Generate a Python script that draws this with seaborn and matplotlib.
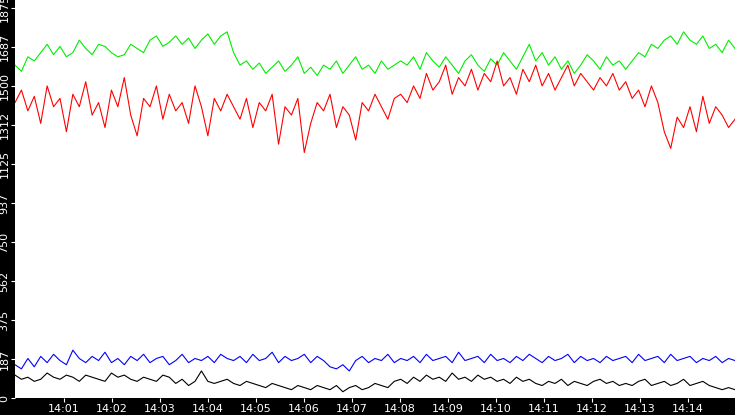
import numpy as np
import pandas as pd
import matplotlib
matplotlib.use('Agg')
import matplotlib.pyplot as plt
import seaborn as sns

green = [1600,1570,1640,1620,1660,1700,1650,1690,1640,1660,1720,1680,1650,1700,1690,1660,1640,1650,1700,1680,1660,1720,1740,1690,1710,1740,1700,1730,1680,1720,1750,1700,1740,1760,
         1660,1600,1620,1580,1610,1560,1590,1620,1570,1600,1640,1560,1590,1550,1600,1580,1620,1560,1600,1640,1580,1600,1560,1620,1580,1600,
         1620,1600,1640,1580,1660,1620,1590,1640,1600,1560,1620,1650,1600,1570,1630,1600,1660,1620,1580,1640,1700,1620,1660,1600,1640,1580,1620,1560,1600,1650,1620,1580,1640,1600,1620,
         1580,1620,1660,1640,1700,1680,1720,1740,1700,1760,1720,1700,1740,1680,1700,1660,1720,1680]
red = [1420,1480,1380,1450,1320,1500,1400,1440,1280,1460,1400,1520,1360,1420,1300,1480,1400,1540,1360,1260,1440,1400,1500,1340,1460,1380,1420,1320,1500,1400,1260,1440,1380,1460,
       1400,1340,1440,1300,1420,1380,1460,1220,1400,1360,1440,1180,1320,1420,1380,1460,1300,1400,1360,1240,1420,1380,1460,1400,1340,1440,
       1460,1420,1500,1440,1560,1480,1520,1600,1460,1540,1500,1580,1480,1560,1520,1620,1500,1540,1460,1580,1520,1600,1500,1560,1480,1540,1600,1500,1560,1520,1480,1540,1500,1560,1480,
       1520,1440,1480,1400,1500,1420,1280,1200,1350,1300,1400,1280,1450,1320,1400,1360,1300,1340]
blue = [160,140,190,150,200,170,210,180,160,230,190,170,200,180,220,170,190,160,200,180,210,170,190,200,160,180,210,170,190,180,200,170,210,190,
        180,200,170,210,180,190,220,170,200,180,190,210,170,200,180,150,140,160,130,180,200,170,190,180,210,170,
        190,180,200,170,210,180,190,200,170,220,180,190,200,170,210,180,190,170,200,180,210,190,170,200,180,190,210,170,200,180,190,170,200,180,190,
        200,170,210,180,190,200,170,210,180,190,200,170,190,180,200,170,190,180]
black = [110,90,100,80,90,120,100,90,110,100,80,110,100,90,80,120,100,110,90,80,100,90,80,110,100,70,90,60,80,130,80,70,80,90,
         70,60,80,70,60,50,70,60,50,40,60,50,40,60,50,40,60,30,50,60,40,50,70,60,50,80,
         90,70,100,80,110,90,100,80,120,90,100,80,110,90,100,80,90,70,100,80,90,70,60,80,70,90,60,80,70,60,80,90,70,80,60,
         70,60,80,90,60,70,80,60,70,90,60,70,80,60,50,40,50,40]
tick_labels = ['14:%02d' % m for m in range(1, 15)]
y_ticks = [0, 187.5, 375, 562.5, 750, 937.5, 1125, 1312.5, 1500, 1687.5, 1875]

t = np.linspace(-0.02, 14.98, len(green))
df = pd.DataFrame({'t': t, 'green': green, 'red': red, 'blue': blue, 'black': black})

fig = plt.figure(figsize=(7.35, 4.15), dpi=100, facecolor='black')
ax = fig.add_axes([15/735, 17/415, 720/735, 398/415])
ax.set_facecolor('white')
for col, c in [('green', '#00ee00'), ('red', '#ff0000'), ('blue', '#0000ff'), ('black', '#000000')]:
    sns.lineplot(data=df, x='t', y=col, color=c, lw=0.8, ax=ax)
ax.set_xlim(-0.02, 14.98)
ax.set_ylim(0, 1913)
ax.set_xticks(range(1, 15))
ax.set_xticklabels(tick_labels)
ax.set_yticks(y_ticks)
ax.set_yticklabels([str(int(v)) for v in y_ticks], rotation=90, va='center')
ax.tick_params(colors='white', labelsize=8, length=3, pad=1)
ax.set_xlabel('')
ax.set_ylabel('')
for s in ax.spines.values():
    s.set_visible(False)
fig.savefig('out.png', dpi=100, facecolor='black')
